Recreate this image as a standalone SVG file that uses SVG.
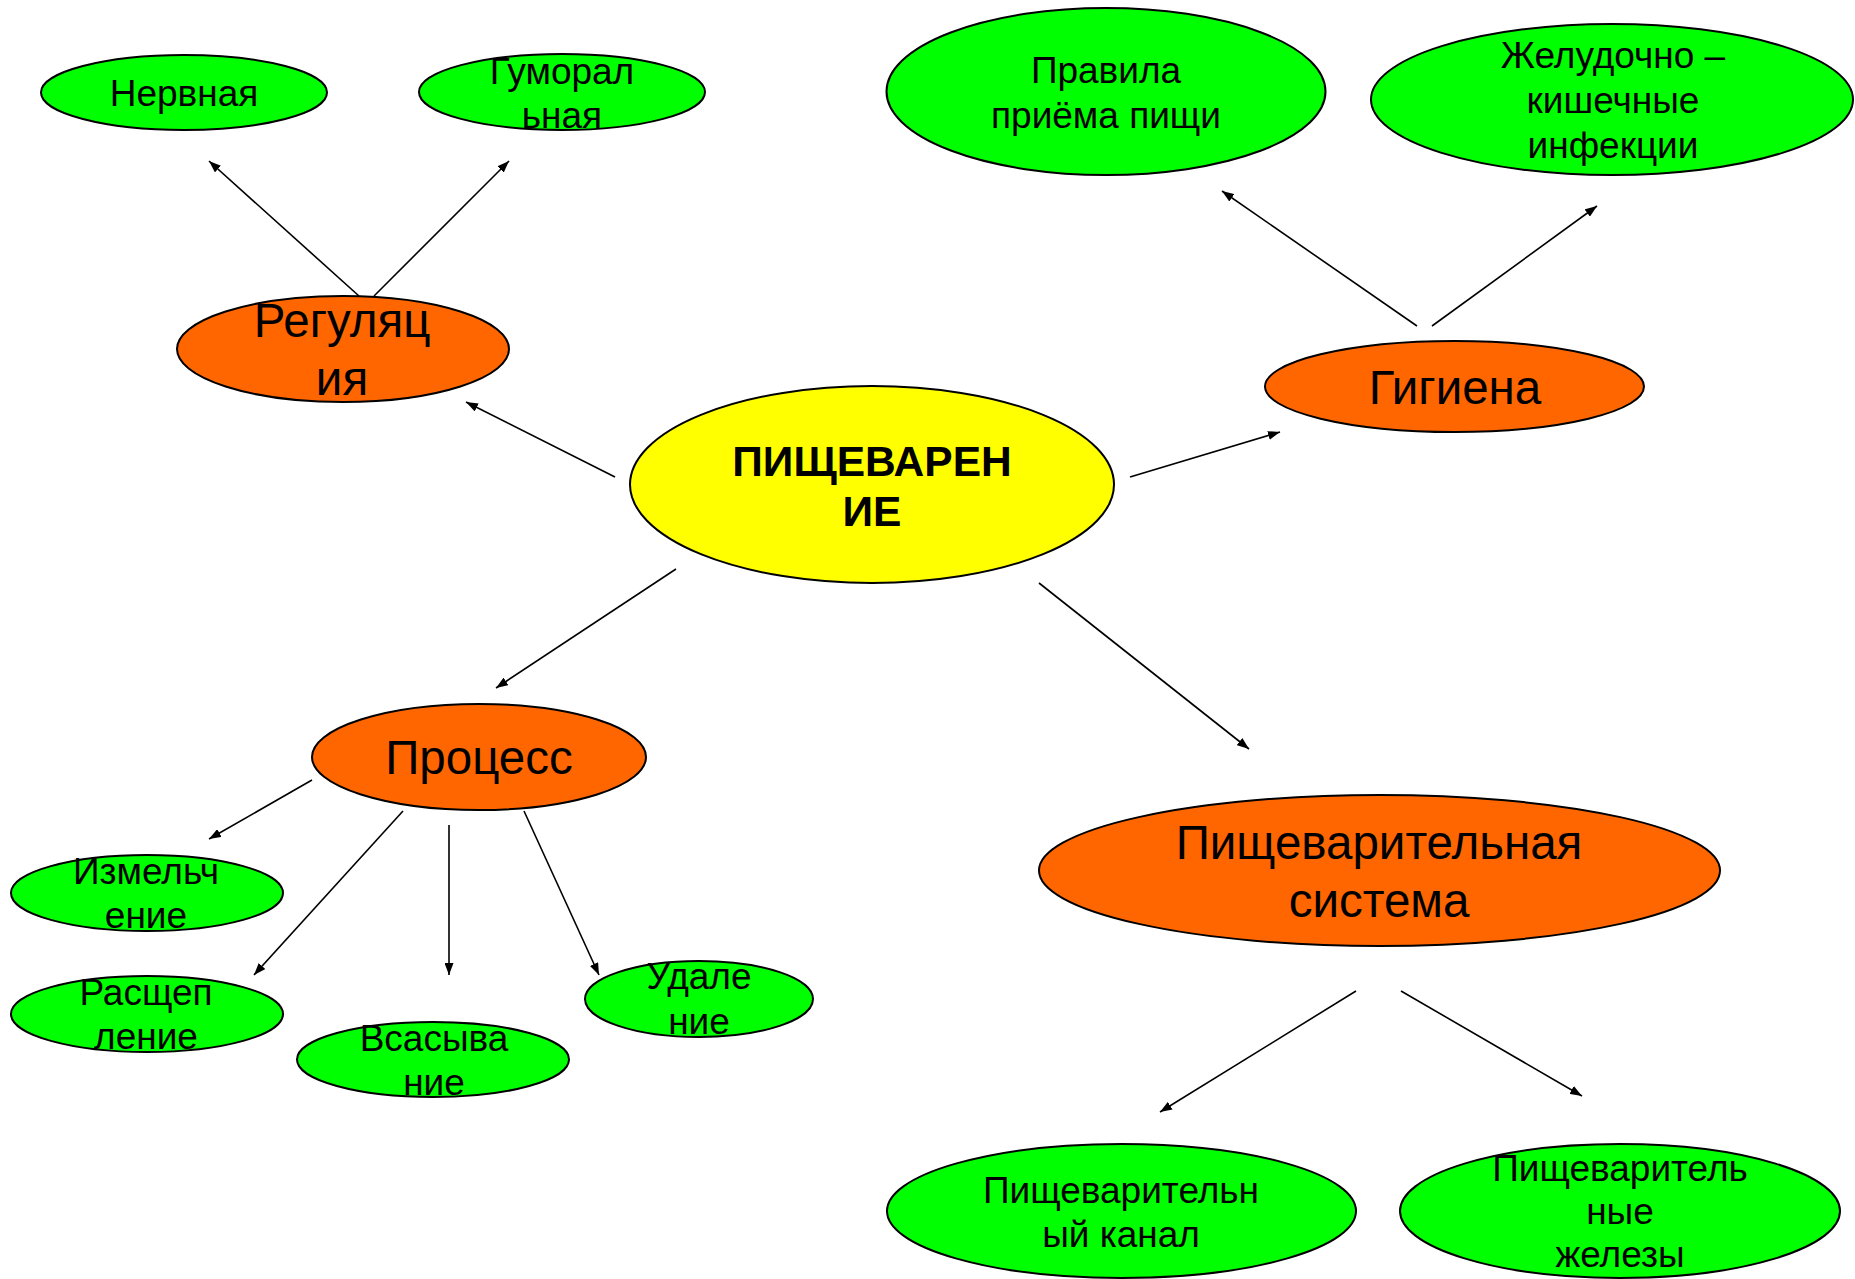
<svg xmlns="http://www.w3.org/2000/svg" width="1855" height="1279" viewBox="0 0 1855 1279">
<style>
  .g { fill: #00FF00; stroke: #000; stroke-width: 2; }
  .o { fill: #FF6600; stroke: #000; stroke-width: 2; }
  .y { fill: #FFFF00; stroke: #000; stroke-width: 2; }
  text { font-family: "Liberation Sans", Arial, sans-serif; fill: #000; text-anchor: middle; }
  .ts { font-size: 37px; }
  .tm { font-size: 47.5px; }
  .tb { font-size: 42.5px; font-weight: bold; }
  .c line { stroke: #000; stroke-width: 1.6; marker-end: url(#ah); }
</style>
<defs>
  <marker id="ah" markerUnits="userSpaceOnUse" markerWidth="13" markerHeight="9" refX="12" refY="4.5" orient="auto">
    <path d="M0,0 L12,4.5 L0,9 z" fill="#000"/>
  </marker>
</defs>
<rect width="1855" height="1279" fill="#fff"/>
<g class="c" id="connectors">
  <line x1="615" y1="477" x2="466" y2="402"/>
  <line x1="359" y1="296" x2="209" y2="161"/>
  <line x1="374" y1="296" x2="509" y2="161"/>
  <line x1="1130" y1="477" x2="1280" y2="432"/>
  <line x1="1417" y1="326" x2="1222" y2="191"/>
  <line x1="1432" y1="326" x2="1597" y2="206"/>
  <line x1="676" y1="569" x2="496" y2="688"/>
  <line x1="1039" y1="583" x2="1249" y2="749"/>
  <line x1="312" y1="780" x2="209" y2="839"/>
  <line x1="403" y1="811" x2="254" y2="975"/>
  <line x1="449" y1="825" x2="449" y2="975"/>
  <line x1="524" y1="811" x2="599" y2="975"/>
  <line x1="1356" y1="991" x2="1160" y2="1112"/>
  <line x1="1401" y1="991" x2="1582" y2="1096"/>
</g>
<g id="n-center">
  <ellipse class="y" cx="872" cy="484.5" rx="242" ry="98.5"/>
  <text class="tb" x="872" y="476">ПИЩЕВАРЕН</text>
  <text class="tb" x="872" y="526">ИЕ</text>
</g>
<g id="n-regulation">
  <ellipse class="o" cx="343" cy="349" rx="166" ry="53"/>
  <text class="tm" x="342" y="337">Регуляц</text>
  <text class="tm" x="342" y="395">ия</text>
</g>
<g id="n-nervnaya">
  <ellipse class="g" cx="184" cy="92.5" rx="143" ry="37.5"/>
  <text class="ts" x="184" y="106">Нервная</text>
</g>
<g id="n-gumoralnaya">
  <ellipse class="g" cx="562" cy="92" rx="143" ry="38"/>
  <text class="ts" x="562" y="84">Гуморал</text>
  <text class="ts" x="562" y="128">ьная</text>
</g>
<g id="n-gigiena">
  <ellipse class="o" cx="1454.5" cy="386.5" rx="189.5" ry="45.5"/>
  <text class="tm" x="1455" y="404">Гигиена</text>
</g>
<g id="n-pravila">
  <ellipse class="g" cx="1106" cy="91.5" rx="219.5" ry="83.5"/>
  <text class="ts" x="1106" y="83">Правила</text>
  <text class="ts" x="1106" y="128">приёма пищи</text>
</g>
<g id="n-infekcii">
  <ellipse class="g" cx="1612" cy="99.5" rx="241" ry="75.5"/>
  <text class="ts" x="1613" y="68">Желудочно –</text>
  <text class="ts" x="1613" y="113">кишечные</text>
  <text class="ts" x="1613" y="158">инфекции</text>
</g>
<g id="n-process">
  <ellipse class="o" cx="479" cy="757" rx="167" ry="53"/>
  <text class="tm" x="479" y="774">Процесс</text>
</g>
<g id="n-izmelchenie">
  <ellipse class="g" cx="147" cy="893" rx="136" ry="38"/>
  <text class="ts" x="146" y="884">Измельч</text>
  <text class="ts" x="146" y="928">ение</text>
</g>
<g id="n-rasshcheplenie">
  <ellipse class="g" cx="147" cy="1014" rx="136" ry="38"/>
  <text class="ts" x="146" y="1005">Расщеп</text>
  <text class="ts" x="146" y="1049">ление</text>
</g>
<g id="n-vsasyvanie">
  <ellipse class="g" cx="433" cy="1059.5" rx="136" ry="37.5"/>
  <text class="ts" x="434" y="1051">Всасыва</text>
  <text class="ts" x="434" y="1095">ние</text>
</g>
<g id="n-udalenie">
  <ellipse class="g" cx="699" cy="999" rx="114" ry="38"/>
  <text class="ts" x="699" y="989">Удале</text>
  <text class="ts" x="699" y="1034">ние</text>
</g>
<g id="n-sistema">
  <ellipse class="o" cx="1379.5" cy="870.5" rx="340.5" ry="75.5"/>
  <text class="tm" x="1379" y="859">Пищеварительная</text>
  <text class="tm" x="1379" y="917">система</text>
</g>
<g id="n-kanal">
  <ellipse class="g" cx="1121.5" cy="1211" rx="234.5" ry="67"/>
  <text class="ts" x="1121" y="1203">Пищеварительн</text>
  <text class="ts" x="1121" y="1247">ый канал</text>
</g>
<g id="n-zhelezy">
  <ellipse class="g" cx="1620" cy="1211" rx="220" ry="67"/>
  <text class="ts" x="1620" y="1181">Пищеваритель</text>
  <text class="ts" x="1620" y="1224">ные</text>
  <text class="ts" x="1620" y="1267">железы</text>
</g>
</svg>
